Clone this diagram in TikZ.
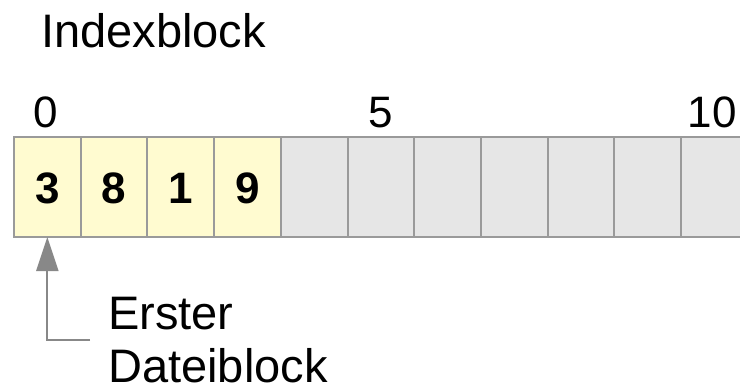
\documentclass[tikz,border=0pt]{standalone}
\usepackage{fontspec}
\setmainfont{Liberation Sans}
\usetikzlibrary{arrows.meta}
\definecolor{cellyellow}{HTML}{FFFBD0}
\definecolor{cellgray}{HTML}{E6E6E6}
\definecolor{edgegray}{HTML}{9A9A9A}
\definecolor{arrgray}{HTML}{888888}
\tikzset{
  cellbox/.style={draw=edgegray, line width=2pt, minimum width=66.7pt, minimum height=100pt, inner sep=0pt, outer sep=0pt},
  usedcell/.style={cellbox, fill=cellyellow},
  freecell/.style={cellbox, fill=cellgray},
  bigtext/.style={inner sep=0pt, font=\fontsize{47}{53.5}\selectfont},
  digit/.style={inner sep=0pt, anchor=base, font=\fontsize{44}{50}\selectfont\bfseries},
  idx/.style={inner sep=0pt, anchor=base, font=\fontsize{44}{50}\selectfont},
  pointer/.style={draw=arrgray, line width=2pt, -{Triangle[length=34pt,width=22pt]}}
}
\begin{document}
\begin{tikzpicture}[x=1pt,y=-1pt]
\clip (0,0) rectangle (740,389);
\useasboundingbox (0,0) rectangle (740,389);
\fill[white] (0,0) rectangle (740,389);
\node[bigtext, anchor=base west] (title) at (41,47) {Indexblock};
% cells
\foreach \i in {0,...,3} {
  \node[usedcell] (c\i) at ({14+66.7*(\i+0.5)},187) {};
}
\foreach \i in {4,...,10} {
  \node[freecell] (c\i) at ({14+66.7*(\i+0.5)},187) {};
}
% values
\node[digit] (v0) at (c0.center |- 0,203) {3};
\node[digit] (v1) at (c1.center |- 0,203) {8};
\node[digit] (v2) at (c2.center |- 0,203) {1};
\node[digit] (v3) at (c3.center |- 0,203) {9};
% indices
\node[idx] (i0) at ([xshift=-2pt]c0.center |- 0,127) {0};
\node[idx] (i5) at (c5.center |- 0,127) {5};
\node[idx] (i10) at ([xshift=-2pt]c10.center |- 0,127) {10};
% label
\node[bigtext, anchor=base west, align=left] (lbl) at (108,382.5) {Erster\\Dateiblock};
\coordinate (elbow) at (90,340);
\draw[pointer] (elbow) -| (c0.south);
\end{tikzpicture}
\end{document}
